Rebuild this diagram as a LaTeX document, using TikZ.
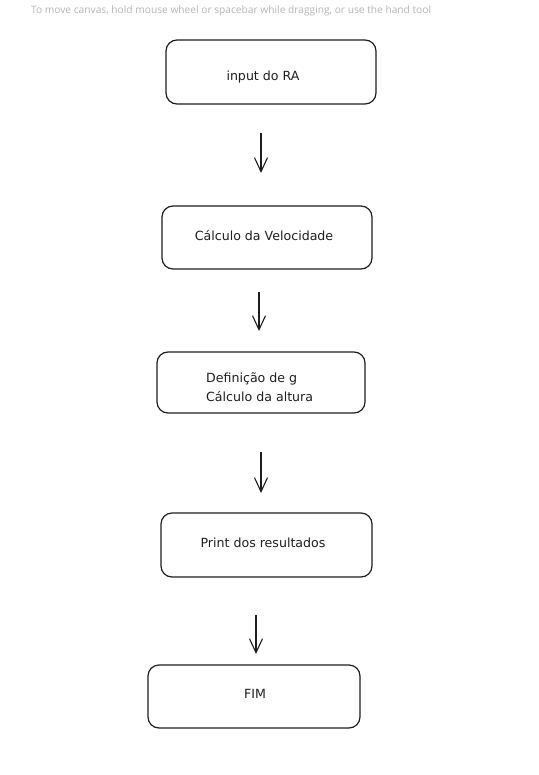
\documentclass[tikz,border=0pt]{standalone}
\usepackage{fontspec}
\setmainfont{DejaVu Sans}
\newfontfamily\uifont{Open Sans}
\usetikzlibrary{arrows.meta}
\definecolor{hint}{HTML}{B4B4B4}
\definecolor{ink}{HTML}{1E1E1E}
\tikzset{
  flowbox/.style={draw=ink, line width=1.2pt, rounded corners=11pt, fill=white},
  boxtext/.style={font=\fontsize{12.6}{19}\selectfont, text=ink, align=left},
  arr/.style={draw=ink, line width=1.3pt, -{Straight Barb[length=14pt,width=13pt,line width=1.1pt]}},
}
\begin{document}
\begin{tikzpicture}[x=1pt,y=-1pt]
\useasboundingbox (0,0) rectangle (538,775);
\node[font=\uifont\fontsize{10.2}{12}\selectfont, text=hint, anchor=west, inner sep=0pt] (hint) at (31,10.5) {To move canvas, hold mouse wheel or spacebar while dragging, or use the hand tool};
% boxes
\draw[flowbox] (166,40) rectangle (376,104);
\node[boxtext] (b1) at (263,77) {input do RA};
\draw[flowbox] (162,206) rectangle (372,269);
\node[boxtext] (b2) at (264,236) {Cálculo da Velocidade};
\draw[flowbox] (157,352) rectangle (365,413);
\node[boxtext, anchor=west, inner sep=0pt] (b3) at (206,387) {Definição de g\\Cálculo da altura};
\draw[flowbox] (161,513) rectangle (372,577);
\node[boxtext] (b4) at (263,543) {Print dos resultados};
\draw[flowbox] (148,665) rectangle (360,728);
\node[boxtext] (b5) at (255,694) {FIM};
% arrows
\coordinate (a1s) at (261,133); \coordinate (a1e) at (261,173);
\coordinate (a2s) at (259,292); \coordinate (a2e) at (259,331);
\coordinate (a3s) at (261,452); \coordinate (a3e) at (261,493);
\coordinate (a4s) at (256,615); \coordinate (a4e) at (256,654);
\draw[arr] (a1s) -- (a1e);
\draw[arr] (a2s) -- (a2e);
\draw[arr] (a3s) -- (a3e);
\draw[arr] (a4s) -- (a4e);
\end{tikzpicture}
\end{document}
